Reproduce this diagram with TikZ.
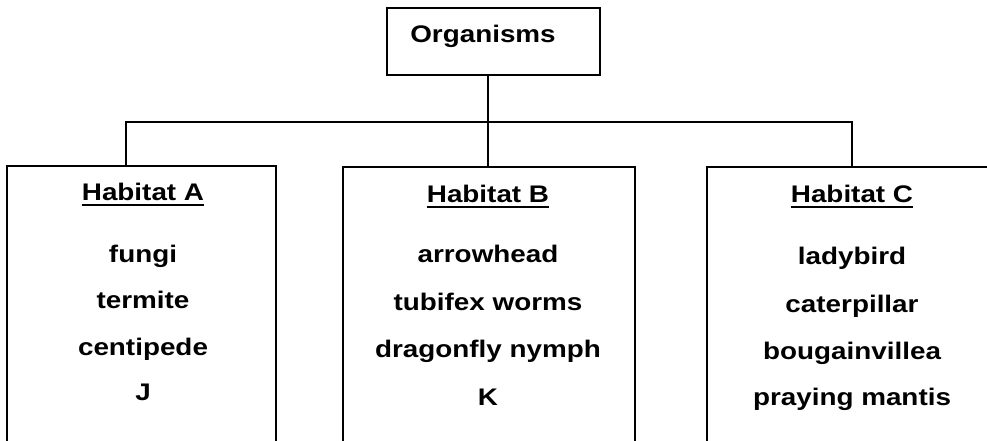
\documentclass[tikz,border=0pt]{standalone}
\usepackage{fontspec}
\newfontfamily\labelfont{Liberation Sans}[FakeStretch=1.16]
\begin{document}
\begin{tikzpicture}[x=1pt,y=-1pt,
  frame/.style={draw, line width=1.8pt, inner sep=0pt, minimum height=#1},
  lbl/.style={anchor=base, inner sep=0pt, font=\labelfont\bfseries\fontsize{24}{28}\selectfont},
  wire/.style={line width=1.8pt},
  uline/.style={line width=1.6pt}]
\useasboundingbox (0,0) rectangle (987,441);
\clip (0,0) rectangle (987,441);

% top box
\node[frame=67, minimum width=213] (org) at (493.5,41.5) {};
\node[lbl] (orgt) at (483,43) {Organisms};

% habitat boxes (they run past the lower edge)
\node[frame=280, minimum width=269] (hA) at (141.5,306) {};
\node[frame=280, minimum width=292] (hB) at (489,307) {};
\node[frame=280, minimum width=292] (hC) at (853,307) {};

% tree connectors
\coordinate (j)  at (488,122);
\coordinate (ja) at (126,122);
\coordinate (jc) at (852,122);
\draw[wire] (org.south -| j) -- (j);
\draw[wire] (ja |- hA.north) -- (ja) -- (jc) -- (jc |- hC.north);
\draw[wire] (j) -- (j |- hB.north);

% Habitat A
\node[lbl] (tA) at (143,200) {Habitat A};
\draw[uline] ([yshift=-5pt]tA.base west) -- ([yshift=-5pt]tA.base east);
\node[lbl] (a1) at (143,262) {fungi};
\node[lbl] (a2) at (143,308) {termite};
\node[lbl] (a3) at (143,355) {centipede};
\node[lbl] (a4) at (143,400) {J};

% Habitat B
\node[lbl] (tB) at (488,202) {Habitat B};
\draw[uline] ([yshift=-5pt]tB.base west) -- ([yshift=-5pt]tB.base east);
\node[lbl] (b1) at (488,262) {arrowhead};
\node[lbl] (b2) at (488,310) {tubifex worms};
\node[lbl] (b3) at (488,357) {dragonfly nymph};
\node[lbl] (b4) at (488,405) {K};

% Habitat C
\node[lbl] (tC) at (852,202) {Habitat C};
\draw[uline] ([yshift=-5pt]tC.base west) -- ([yshift=-5pt]tC.base east);
\node[lbl] (c1) at (852,264) {ladybird};
\node[lbl] (c2) at (852,312) {caterpillar};
\node[lbl] (c3) at (852,359) {bougainvillea};
\node[lbl] (c4) at (852,405) {praying mantis};
\end{tikzpicture}
\end{document}
